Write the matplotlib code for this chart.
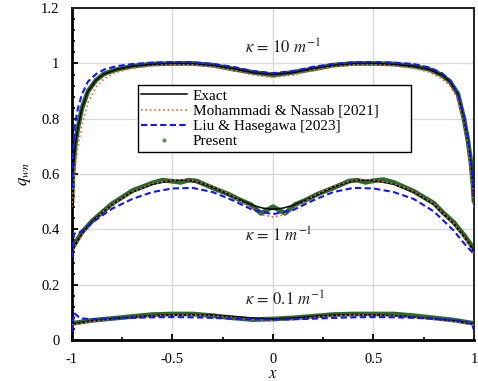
import matplotlib
matplotlib.use("Agg")
import matplotlib.pyplot as plt
from matplotlib.ticker import MultipleLocator, FuncFormatter

plt.rcParams["font.family"] = ["Liberation Serif", "DejaVu Serif"]
plt.rcParams["mathtext.fontset"] = "stix"
plt.rcParams["axes.unicode_minus"] = False

# kappa = 10
x10 = [-1, -0.995, -0.985, -0.97, -0.95, -0.92, -0.88, -0.84, -0.78, -0.7, -0.6, -0.5, -0.4, -0.3, -0.2, -0.1, 0,
       0.1, 0.2, 0.3, 0.4, 0.5, 0.6, 0.7, 0.78, 0.84, 0.88, 0.92, 0.95, 0.97, 0.985, 0.995, 1]
exact10 = [0.50, 0.60, 0.70, 0.77, 0.84, 0.90, 0.94, 0.962, 0.978, 0.99, 0.997, 1.0, 0.999, 0.993, 0.982, 0.967, 0.960,
           0.967, 0.982, 0.993, 0.999, 1.0, 0.997, 0.99, 0.978, 0.958, 0.935, 0.89, 0.80, 0.72, 0.64, 0.56, 0.50]
moh10 = [0.48, 0.55, 0.63, 0.70, 0.78, 0.86, 0.915, 0.945, 0.968, 0.983, 0.992, 0.996, 0.995, 0.988, 0.975, 0.958, 0.950,
         0.958, 0.975, 0.988, 0.995, 0.996, 0.992, 0.983, 0.968, 0.945, 0.92, 0.87, 0.79, 0.71, 0.62, 0.54, 0.48]
liu10 = [0.55, 0.68, 0.78, 0.84, 0.89, 0.935, 0.962, 0.978, 0.99, 0.998, 1.003, 1.005, 1.004, 0.998, 0.988, 0.972, 0.965,
         0.972, 0.988, 0.998, 1.004, 1.005, 1.003, 0.998, 0.985, 0.965, 0.94, 0.89, 0.81, 0.73, 0.65, 0.57, 0.50]
pres10 = [0.50, 0.60, 0.70, 0.77, 0.84, 0.90, 0.94, 0.963, 0.978, 0.99, 0.998, 1.0, 1.0, 0.994, 0.98, 0.968, 0.958,
          0.968, 0.98, 0.994, 1.0, 1.0, 0.998, 0.99, 0.978, 0.958, 0.935, 0.89, 0.80, 0.72, 0.64, 0.56, 0.50]

# kappa = 1
x1 = [-1, -0.98, -0.95, -0.9, -0.85, -0.8, -0.7, -0.6, -0.5, -0.45, -0.4, -0.3, -0.2, -0.1, -0.05, 0,
      0.05, 0.1, 0.2, 0.3, 0.4, 0.45, 0.5, 0.6, 0.7, 0.8, 0.85, 0.9, 0.95, 0.98, 1]
exact1 = [0.32, 0.35, 0.385, 0.43, 0.46, 0.49, 0.535, 0.563, 0.577, 0.578, 0.576, 0.553, 0.518, 0.487, 0.477, 0.473,
          0.477, 0.487, 0.518, 0.553, 0.576, 0.578, 0.577, 0.563, 0.535, 0.49, 0.455, 0.42, 0.375, 0.345, 0.32]
moh1 = [0.31, 0.345, 0.38, 0.425, 0.46, 0.49, 0.535, 0.565, 0.578, 0.58, 0.577, 0.555, 0.52, 0.475, 0.452, 0.445,
        0.452, 0.475, 0.52, 0.555, 0.577, 0.58, 0.578, 0.565, 0.537, 0.492, 0.455, 0.42, 0.372, 0.342, 0.31]
xl1 = [-1, -0.99, -0.97, -0.95, -0.9, -0.85, -0.8, -0.7, -0.6, -0.5, -0.4, -0.3, -0.2, -0.1, 0,
       0.1, 0.2, 0.3, 0.4, 0.5, 0.6, 0.7, 0.8, 0.85, 0.9, 0.95, 1]
liu1 = [0.30, 0.385, 0.385, 0.395, 0.425, 0.45, 0.475, 0.51, 0.535, 0.548, 0.55, 0.535, 0.505, 0.47, 0.455,
        0.47, 0.505, 0.535, 0.55, 0.548, 0.535, 0.51, 0.465, 0.43, 0.395, 0.35, 0.31]
xp1 = [-1, -0.98, -0.95, -0.9, -0.85, -0.8, -0.7, -0.6, -0.55, -0.5, -0.46, -0.42, -0.38, -0.3, -0.22, -0.16, -0.11,
       -0.06, 0, 0.06, 0.11, 0.16, 0.22, 0.3, 0.38, 0.42, 0.46, 0.5, 0.55, 0.6, 0.7, 0.8, 0.85, 0.9, 0.95, 0.98, 1]
pres1 = [0.33, 0.355, 0.39, 0.43, 0.462, 0.493, 0.54, 0.568, 0.578, 0.574, 0.57, 0.578, 0.575, 0.55, 0.527, 0.505, 0.49,
         0.458, 0.482, 0.458, 0.49, 0.505, 0.527, 0.55, 0.575, 0.578, 0.57, 0.576, 0.58, 0.57, 0.538, 0.495, 0.458, 0.425,
         0.38, 0.35, 0.325]

# kappa = 0.1
x01 = [-1, -0.9, -0.8, -0.7, -0.6, -0.5, -0.4, -0.3, -0.2, -0.1, 0, 0.1, 0.2, 0.3, 0.4, 0.5, 0.6, 0.7, 0.8, 0.9, 1]
exact01 = [0.058, 0.07, 0.077, 0.083, 0.088, 0.091, 0.092, 0.09, 0.085, 0.079, 0.076,
           0.079, 0.085, 0.09, 0.092, 0.091, 0.088, 0.083, 0.077, 0.07, 0.058]
moh01 = [0.055, 0.068, 0.076, 0.082, 0.087, 0.09, 0.091, 0.088, 0.082, 0.074, 0.07,
         0.074, 0.082, 0.088, 0.091, 0.09, 0.087, 0.082, 0.075, 0.067, 0.055]
pres01 = [0.06, 0.071, 0.078, 0.085, 0.092, 0.094, 0.094, 0.088, 0.08, 0.074, 0.076,
          0.08, 0.086, 0.092, 0.094, 0.094, 0.094, 0.088, 0.08, 0.072, 0.06]
xl01 = [-1, -0.99, -0.97, -0.95, -0.9, -0.8, -0.7, -0.6, -0.5, -0.4, -0.3, -0.2, -0.1, 0,
        0.1, 0.2, 0.3, 0.4, 0.5, 0.6, 0.7, 0.8, 0.9, 0.95, 0.99, 1]
liu01 = [0.03, 0.098, 0.085, 0.078, 0.075, 0.078, 0.08, 0.082, 0.083, 0.082, 0.08, 0.077, 0.075, 0.074,
         0.075, 0.077, 0.08, 0.082, 0.083, 0.082, 0.08, 0.077, 0.072, 0.068, 0.06, 0.035]

kappa_labels = [r"$\kappa\,=\,10\ m^{-1}$", r"$\kappa\,=\,1\ m^{-1}$", r"$\kappa\,=\,0.1\ m^{-1}$"]
kappa_pos = [(-0.14, 1.055), (-0.14, 0.375), (-0.14, 0.145)]

GREEN = "#2c6a2c"
BLUE = "#1414ff"
ORANGE = "#e4693a"

fig = plt.figure(figsize=(4.78, 3.81), dpi=100)
ax = fig.add_axes([0.1506, 0.1076, 0.841, 0.871])

sets = [(x10, exact10, moh10, x10, liu10, x10, pres10),
        (x1, exact1, moh1, xl1, liu1, xp1, pres1),
        (x01, exact01, moh01, xl01, liu01, x01, pres01)]

for i, (xe, ye, ym, xl, yl, xp, yp) in enumerate(sets):
    first = i == 0
    ax.plot(xp, yp, color=GREEN, lw=3.4, solid_capstyle="round", zorder=2)
    ax.plot(xp, yp, ".", color=GREEN, ms=3, zorder=2)
    ax.plot(xe, ye, color="black", lw=1.1, zorder=3, label="Exact" if first else None)
    ax.plot(xe, ym, ":", color=ORANGE, lw=1.2, zorder=4,
            label="Mohammadi & Nassab [2021]" if first else None)
    ax.plot(xl, yl, "--", color=BLUE, lw=1.5, dashes=(3, 1.6), zorder=5,
            label="Liu & Hasegawa [2023]" if first else None)
    if first:
        ax.plot([], [], ".", color="#5e8f5e", ms=4, label="Present")

for txt, (tx, ty) in zip(kappa_labels, kappa_pos):
    ax.text(tx, ty, txt, fontsize=12, ha="left", va="center", color="#222222")

ax.set_xlim(-1, 1)
ax.set_ylim(0, 1.2)
ax.xaxis.set_major_locator(MultipleLocator(0.5))
ax.xaxis.set_minor_locator(MultipleLocator(0.25))
ax.yaxis.set_major_locator(MultipleLocator(0.2))
ax.yaxis.set_minor_locator(MultipleLocator(0.04))
ax.xaxis.set_major_formatter(FuncFormatter(lambda v, p: "%g" % round(v, 2)))
ax.yaxis.set_major_formatter(FuncFormatter(lambda v, p: "%g" % round(v, 2)))
ax.tick_params(which="both", direction="in", labelsize=10.5, colors="black")
ax.tick_params(which="major", length=4, width=1.3, pad=9)
ax.tick_params(which="minor", length=2.5, width=1.2)
ax.tick_params(axis="y", pad=9)
ax.grid(True, which="major", color="#d9d9d9", lw=1.0, zorder=0)
ax.set_axisbelow(True)

for side in ["left", "bottom"]:
    ax.spines[side].set_linewidth(2.0)
for side in ["top", "right"]:
    ax.spines[side].set_linewidth(1.4)
    ax.spines[side].set_color("#222222")

ax.set_xlabel(r"$x$", fontsize=12, labelpad=0)
ax.set_ylabel(r"$q_{wn}$", fontsize=12, labelpad=6)

leg = ax.legend(loc="upper left", bbox_to_anchor=(0.163, 0.57, 0.68, 0.198), mode="expand",
                fontsize=11, frameon=True, fancybox=False, edgecolor="black", framealpha=1,
                borderpad=0.25, labelspacing=0.1, handlelength=3.0, handletextpad=0.35, borderaxespad=0)
leg.get_frame().set_linewidth(1.0)

fig.savefig("out.png", dpi=100)
